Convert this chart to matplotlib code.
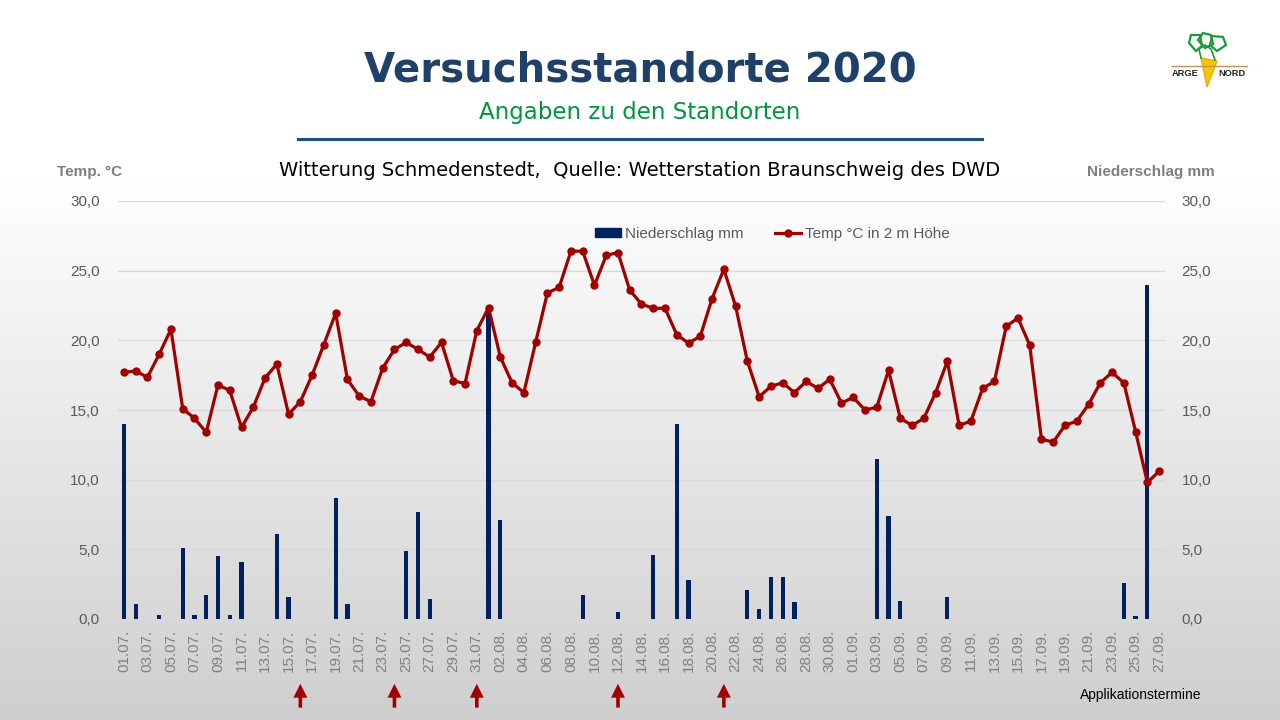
import numpy as np
import pandas as pd
import matplotlib
matplotlib.use('Agg')
import matplotlib.pyplot as plt
from matplotlib.patches import Patch, Polygon
from matplotlib.lines import Line2D

plt.rcParams['font.family'] = ['Liberation Sans', 'DejaVu Sans']

# Tagesmittel Temperatur (°C in 2 m Höhe), 01.07. - 27.09.2020
temp = [17.7, 17.8, 17.35, 19.0, 20.8, 15.1, 14.4, 13.4, 16.8, 16.4,
        13.75, 15.2, 17.3, 18.3, 14.7, 15.6, 17.5, 19.7, 21.95, 17.2,
        16.0, 15.6, 18.0, 19.35, 19.85, 19.35, 18.8, 19.85, 17.1, 16.9,
        20.7, 22.35, 18.8, 16.95, 16.25, 19.85, 23.4, 23.8, 26.4, 26.4,
        23.95, 26.1, 26.3, 23.6, 22.6, 22.3, 22.3, 20.4, 19.8, 20.3,
        23.0, 25.1, 22.45, 18.5, 15.95, 16.7, 16.95, 16.25, 17.05, 16.55,
        17.2, 15.5, 15.9, 15.0, 15.2, 17.85, 14.4, 13.9, 14.4, 16.25,
        18.5, 13.9, 14.2, 16.55, 17.05, 21.0, 21.6, 19.65, 12.9, 12.7,
        13.9, 14.2, 15.4, 16.95, 17.7, 16.95, 13.45, 9.8, 10.6]

# Niederschlag mm
niederschlag = [14.0, 1.1, 0, 0.3, 0, 5.1, 0.3, 1.7, 4.5, 0.3,
                4.1, 0, 0, 6.1, 1.6, 0, 0, 0, 8.7, 1.1,
                0, 0, 0, 0, 4.9, 7.7, 1.4, 0, 0, 0,
                0, 22.0, 7.1, 0, 0, 0, 0, 0, 0, 1.7,
                0, 0, 0.5, 0, 0, 4.6, 0, 14.0, 2.8, 0,
                0, 0, 0, 2.1, 0.7, 3.0, 3.0, 1.2, 0, 0,
                0, 0, 0, 0, 11.5, 7.4, 1.3, 0, 0, 0,
                1.6, 0, 0, 0, 0, 0, 0, 0, 0, 0,
                0, 0, 0, 0, 0, 2.6, 0.2, 24.0, 0]

tage = pd.date_range('2020-07-01', '2020-09-27', freq='D')
labels = [d.strftime('%d.%m.') for d in tage]
applikation = ['16.07.', '24.07.', '31.07.', '12.08.', '21.08.']
yticks = [0, 5, 10, 15, 20, 25, 30]

navy = '#002060'
rot = '#a00000'
grau = '#7f7f7f'

fig = plt.figure(figsize=(12.8, 7.2), dpi=100)

# Hintergrund mit Verlauf
bg = fig.add_axes([0, 0, 1, 1], zorder=-10)
rows = np.ones(720)
rows[180:] = np.linspace(1.0, 0.81, 540)
bg.imshow(np.tile(rows[:, None, None], (1, 1, 3)), aspect='auto', extent=(0, 1, 0, 1))
bg.axis('off')

x = np.arange(len(temp))
ax = fig.add_axes([118 / 1280, 1 - 619 / 720, 1047 / 1280, 418 / 720])
ax.set_facecolor('none')
ax.bar(x, niederschlag, width=0.36, color=navy, zorder=2)
ax.set_xlim(-0.5, len(temp) - 0.5)
ax.set_ylim(0, 30)
ax.set_yticks(yticks)
ax.set_yticklabels([f'{v:.1f}'.replace('.', ',') for v in yticks])
ax.grid(axis='y', color='#d9d9d9', lw=1, zorder=0)
ax.set_axisbelow(True)
ax.set_xticks(x[::2])
ax.set_xticklabels(labels[::2], rotation=90)
ax.tick_params(axis='x', length=0, pad=8, labelsize=11, labelcolor='#808080')
ax.tick_params(axis='y', length=0, pad=13, labelsize=11, labelcolor='#595959')
for s in ax.spines.values():
    s.set_visible(False)

ax2 = ax.twinx()
ax2.plot(x, temp, color=rot, lw=2.3, marker='o', ms=5, zorder=3)
ax2.set_ylim(0, 30)
ax2.set_yticks(yticks)
ax2.set_yticklabels([f'{v:.1f}'.replace('.', ',') for v in yticks])
ax2.tick_params(axis='y', length=0, pad=12, labelsize=11, labelcolor='#595959')
for s in ax2.spines.values():
    s.set_visible(False)

handles = [Patch(color=navy, label='Niederschlag mm'),
           Line2D([], [], color=rot, lw=2.3, marker='o', ms=5, label='Temp °C in 2 m Höhe')]
leg = ax2.legend(handles=handles, loc='center', bbox_to_anchor=(0.625, 0.921), ncol=2,
                 frameon=False, fontsize=11, handlelength=1.7, handleheight=0.5,
                 columnspacing=2.1, handletextpad=0.25)
for t in leg.get_texts():
    t.set_color('#595959')

# Applikationstermine (Pfeile)
for d in applikation:
    i = labels.index(d)
    ax.annotate('', xy=(i, -0.155), xytext=(i, -0.212),
                xycoords=('data', 'axes fraction'), textcoords=('data', 'axes fraction'),
                annotation_clip=False,
                arrowprops=dict(facecolor=rot, edgecolor='none', width=2.6, headwidth=10, headlength=10))
fig.text(1141 / 1280, 1 - 695 / 720, 'Applikationstermine', ha='center', va='center', fontsize=10)

# Titel
fig.text(0.5, 1 - 70 / 720, 'Versuchsstandorte 2020', ha='center', va='center',
         fontsize=29, fontweight='bold', color='#1f4068', family='DejaVu Sans')
fig.text(0.5, 1 - 113 / 720, 'Angaben zu den Standorten', ha='center', va='center',
         fontsize=16.5, color='#00963f', family='DejaVu Sans')
fig.add_artist(Line2D([298 / 1280, 982 / 1280], [1 - 139 / 720] * 2, color='#1f4e79', lw=2.2))
fig.text(0.5, 1 - 170 / 720, 'Witterung Schmedenstedt,  Quelle: Wetterstation Braunschweig des DWD',
         ha='center', va='center', fontsize=14, family='DejaVu Sans')
fig.text(90 / 1280, 1 - 172 / 720, 'Temp. °C', ha='center', va='center', fontsize=11,
         fontweight='bold', color=grau)
fig.text(1151 / 1280, 1 - 172 / 720, 'Niederschlag mm', ha='center', va='center', fontsize=11,
         fontweight='bold', color=grau)

# Logo ARGE NORD (vereinfacht), 1 Einheit = 1 Pixel
lg = fig.add_axes([1165 / 1280, 1 - 95 / 720, 90 / 1280, 65 / 720])
lg.set_xlim(0, 90)
lg.set_ylim(0, 65)
lg.axis('off')
lg.plot([7, 82], [29, 29], color='#c8915a', lw=1)
lg.add_patch(Polygon([[36, 37], [52, 34], [42, 8]], closed=True, fc='#f7c600', ec='#e8b000', lw=1))
leaves = ([[24, 52], [26, 60], [35, 60], [37, 49], [31, 44]],
          [[33, 55], [38, 62], [46, 60], [48, 51], [40, 47]],
          [[45, 50], [47, 59], [58, 58], [61, 50], [52, 44]])
for pts in leaves:
    lg.add_patch(Polygon(pts, closed=True, fc='none', ec='#1a9a3a', lw=1.6))
lg.plot([36, 34, 40, 46, 50], [37, 46, 50, 46, 35], color='#1a9a3a', lw=1.2)
lg.text(20, 21, 'ARGE', ha='center', va='center', fontsize=6.7, fontweight='bold', color='#222222')
lg.text(67, 21, 'NORD', ha='center', va='center', fontsize=6.7, fontweight='bold', color='#222222')

fig.savefig('out.png', dpi=100)
